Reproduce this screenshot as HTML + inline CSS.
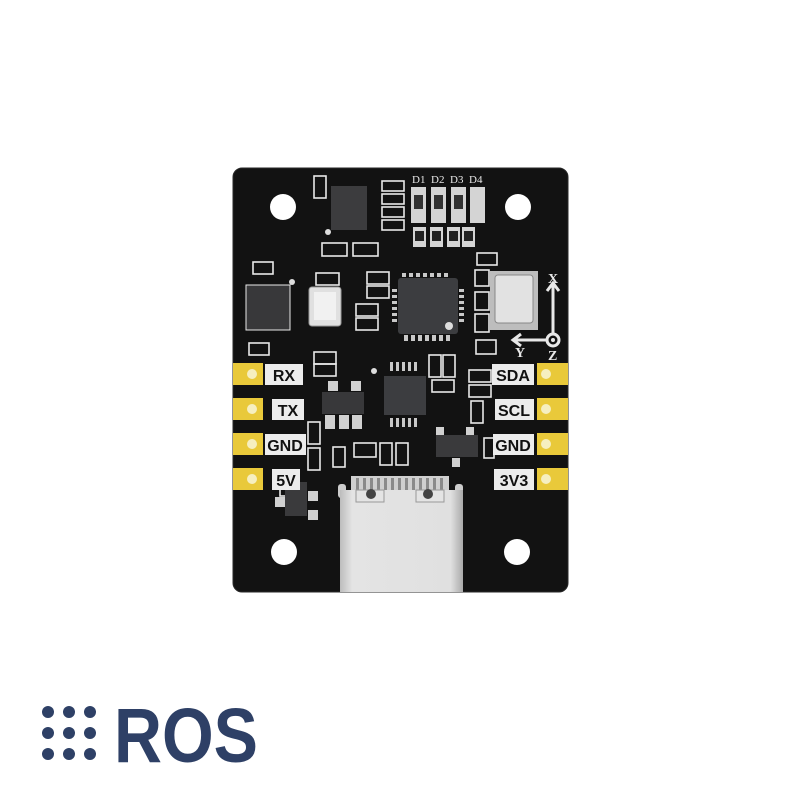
<!DOCTYPE html>
<html><head><meta charset="utf-8"><style>
html,body{margin:0;padding:0;background:#fff;width:800px;height:800px;overflow:hidden}
svg{display:block}
</style></head><body>
<svg width="800" height="800" viewBox="0 0 800 800" xmlns="http://www.w3.org/2000/svg" font-family="Liberation Sans, sans-serif">
<defs>
<linearGradient id="usb" x1="0" x2="1"><stop offset="0" stop-color="#bdbdbd"/><stop offset="0.1" stop-color="#e4e4e4"/><stop offset="0.9" stop-color="#e0e0e0"/><stop offset="1" stop-color="#aaa"/></linearGradient>
</defs>
<rect x="0" y="0" width="800" height="800" fill="#fff"/>
<!-- board -->
<rect x="233" y="168" width="335" height="424" rx="9" fill="#121212"/>
<rect x="233" y="168" width="335" height="424" rx="9" fill="none" stroke="#2a2a2a" stroke-width="1"/>
<!-- holes -->
<circle cx="283" cy="207" r="13" fill="#fff"/>
<circle cx="518" cy="207" r="13" fill="#fff"/>
<circle cx="284" cy="552" r="13" fill="#fff"/>
<circle cx="517" cy="552" r="13" fill="#fff"/>

<g fill="none" stroke="#e8e8e8" stroke-width="1.6">
<!-- top small components -->
<rect x="314" y="176" width="12" height="22"/>
<rect x="382" y="181" width="22" height="10"/><rect x="382" y="194" width="22" height="10"/>
<rect x="382" y="207" width="22" height="10"/><rect x="382" y="220" width="22" height="10"/>
<rect x="322" y="243" width="25" height="13"/><rect x="353" y="243" width="25" height="13"/>
<rect x="253" y="262" width="20" height="12"/>
<rect x="316" y="273" width="23" height="12"/>
<rect x="367" y="272" width="22" height="12"/><rect x="367" y="286" width="22" height="12"/>
<rect x="356" y="304" width="22" height="12"/><rect x="356" y="318" width="22" height="12"/>
<rect x="477" y="253" width="20" height="12"/>
<rect x="475" y="270" width="14" height="16"/><rect x="475" y="292" width="14" height="18"/><rect x="475" y="314" width="14" height="18"/>
<rect x="476" y="340" width="20" height="14"/>
<rect x="249" y="343" width="20" height="12"/>
<!-- middle -->
<rect x="314" y="352" width="22" height="12"/><rect x="314" y="364" width="22" height="12"/>
<rect x="429" y="355" width="12" height="22"/><rect x="443" y="355" width="12" height="22"/>
<rect x="432" y="380" width="22" height="12"/>
<rect x="469" y="370" width="22" height="12"/><rect x="469" y="385" width="22" height="12"/>
<rect x="471" y="401" width="12" height="22"/>
<rect x="308" y="422" width="12" height="22"/><rect x="308" y="448" width="12" height="22"/>
<rect x="333" y="447" width="12" height="20"/>
<rect x="354" y="443" width="22" height="14"/>
<rect x="380" y="443" width="12" height="22"/><rect x="396" y="443" width="12" height="22"/>
<rect x="484" y="438" width="10" height="20"/>
<rect x="280" y="486" width="10" height="10"/>
</g>

<!-- chips -->
<rect x="331" y="186" width="36" height="44" fill="#3c3c3e"/>
<circle cx="328" cy="232" r="3" fill="#ddd"/>
<rect x="246" y="285" width="44" height="45" fill="#38383a" stroke="#e8e8e8" stroke-width="1"/>
<circle cx="292" cy="282" r="3" fill="#ddd"/>
<rect x="309" y="287" width="32" height="39" rx="3" fill="#e0e0e0" stroke="#999"/>
<rect x="314" y="292" width="22" height="28" fill="#f1f1f1"/>
<!-- QFN -->
<rect x="398" y="278" width="60" height="56" rx="3" fill="#3c3d40"/>
<g fill="#c8c8c8">
<rect x="402" y="273" width="4" height="4"/><rect x="409" y="273" width="4" height="4"/><rect x="416" y="273" width="4" height="4"/><rect x="423" y="273" width="4" height="4"/><rect x="430" y="273" width="4" height="4"/><rect x="437" y="273" width="4" height="4"/><rect x="444" y="273" width="4" height="4"/>
<rect x="404" y="335" width="4" height="6"/><rect x="411" y="335" width="4" height="6"/><rect x="418" y="335" width="4" height="6"/><rect x="425" y="335" width="4" height="6"/><rect x="432" y="335" width="4" height="6"/><rect x="439" y="335" width="4" height="6"/><rect x="446" y="335" width="4" height="6"/>
<rect x="392" y="289" width="5" height="3"/><rect x="392" y="295" width="5" height="3"/><rect x="392" y="301" width="5" height="3"/><rect x="392" y="307" width="5" height="3"/><rect x="392" y="313" width="5" height="3"/><rect x="392" y="319" width="5" height="3"/>
<rect x="459" y="289" width="5" height="3"/><rect x="459" y="295" width="5" height="3"/><rect x="459" y="301" width="5" height="3"/><rect x="459" y="307" width="5" height="3"/><rect x="459" y="313" width="5" height="3"/><rect x="459" y="319" width="5" height="3"/>
</g>
<circle cx="449" cy="326" r="4" fill="#ddd"/>
<!-- IMU -->
<rect x="490" y="271" width="48" height="59" fill="#bdbdbd"/>
<rect x="495" y="275" width="38" height="48" rx="3" fill="#e2e2e2" stroke="#888"/>
<!-- axes -->
<g stroke="#e8e8e8" stroke-width="3" fill="none">
<line x1="553" y1="334" x2="553" y2="285"/>
<line x1="547" y1="340" x2="515" y2="340"/>
<polyline points="547,291 553,283 559,291"/>
<polyline points="521,334 513,340 521,346"/>
<circle cx="553" cy="340" r="6"/>
</g>
<circle cx="553" cy="340" r="2" fill="#e8e8e8"/>
<g fill="#e8e8e8" font-family="Liberation Serif, serif" font-weight="bold" font-size="14">
<text x="548" y="283">X</text><text x="515" y="357">Y</text><text x="548" y="360">Z</text>
</g>
<!-- LEDs -->
<g fill="#e8e8e8" font-family="Liberation Serif, serif" font-size="11">
<text x="412" y="183">D1</text><text x="431" y="183">D2</text><text x="450" y="183">D3</text><text x="469" y="183">D4</text>
</g>
<g>
<rect x="411" y="187" width="15" height="36" fill="#d4d4d4"/><rect x="414" y="195" width="9" height="14" fill="#333"/>
<rect x="431" y="187" width="15" height="36" fill="#d4d4d4"/><rect x="434" y="195" width="9" height="14" fill="#333"/>
<rect x="451" y="187" width="15" height="36" fill="#d4d4d4"/><rect x="454" y="195" width="9" height="14" fill="#333"/>
<rect x="470" y="187" width="15" height="36" fill="#d4d4d4"/>
<rect x="413" y="227" width="13" height="20" fill="#d4d4d4"/><rect x="415" y="231" width="9" height="10" fill="#222"/>
<rect x="430" y="227" width="13" height="20" fill="#d4d4d4"/><rect x="432" y="231" width="9" height="10" fill="#222"/>
<rect x="447" y="227" width="13" height="20" fill="#d4d4d4"/><rect x="449" y="231" width="9" height="10" fill="#222"/>
<rect x="462" y="227" width="13" height="20" fill="#d4d4d4"/><rect x="464" y="231" width="9" height="10" fill="#222"/>
</g>
<!-- SOT-223ish -->
<rect x="328" y="381" width="10" height="10" fill="#d0d0d0"/><rect x="351" y="381" width="10" height="10" fill="#d0d0d0"/>
<rect x="325" y="415" width="10" height="14" fill="#d0d0d0"/><rect x="339" y="415" width="10" height="14" fill="#d0d0d0"/><rect x="352" y="415" width="10" height="14" fill="#d0d0d0"/>
<rect x="322" y="392" width="42" height="22" fill="#38383a"/>
<!-- SOIC -->
<rect x="384" y="376" width="42" height="39" fill="#3c3d40"/>
<g fill="#c8c8c8">
<rect x="390" y="362" width="3" height="9"/><rect x="396" y="362" width="3" height="9"/><rect x="402" y="362" width="3" height="9"/><rect x="408" y="362" width="3" height="9"/><rect x="414" y="362" width="3" height="9"/>
<rect x="390" y="418" width="3" height="9"/><rect x="396" y="418" width="3" height="9"/><rect x="402" y="418" width="3" height="9"/><rect x="408" y="418" width="3" height="9"/><rect x="414" y="418" width="3" height="9"/>
</g>
<circle cx="374" cy="371" r="3" fill="#ddd"/>
<!-- SOT23 right -->
<rect x="436" y="427" width="8" height="8" fill="#d0d0d0"/><rect x="466" y="427" width="8" height="8" fill="#d0d0d0"/>
<rect x="452" y="458" width="8" height="9" fill="#d0d0d0"/>
<rect x="436" y="435" width="42" height="22" fill="#3a3a3c"/>
<!-- 5V SOT -->
<rect x="275" y="497" width="10" height="10" fill="#d0d0d0"/><rect x="308" y="491" width="10" height="10" fill="#d0d0d0"/><rect x="308" y="510" width="10" height="10" fill="#d0d0d0"/>
<rect x="285" y="482" width="22" height="34" fill="#3a3a3c"/>

<!-- pins left -->
<g>
<rect x="233" y="363" width="30" height="22" fill="#e9c93a"/><circle cx="252" cy="374" r="5" fill="#f6efc0"/>
<rect x="233" y="398" width="30" height="22" fill="#e9c93a"/><circle cx="252" cy="409" r="5" fill="#f6efc0"/>
<rect x="233" y="433" width="30" height="22" fill="#e9c93a"/><circle cx="252" cy="444" r="5" fill="#f6efc0"/>
<rect x="233" y="468" width="30" height="22" fill="#e9c93a"/><circle cx="252" cy="479" r="5" fill="#f6efc0"/>
<rect x="537" y="363" width="31" height="22" fill="#e9c93a"/><circle cx="546" cy="374" r="5" fill="#f6efc0"/>
<rect x="537" y="398" width="31" height="22" fill="#e9c93a"/><circle cx="546" cy="409" r="5" fill="#f6efc0"/>
<rect x="537" y="433" width="31" height="22" fill="#e9c93a"/><circle cx="546" cy="444" r="5" fill="#f6efc0"/>
<rect x="537" y="468" width="31" height="22" fill="#e9c93a"/><circle cx="546" cy="479" r="5" fill="#f6efc0"/>
</g>
<g fill="#ececec">
<rect x="265" y="364" width="38" height="21"/><rect x="272" y="399" width="32" height="21"/>
<rect x="265" y="434" width="41" height="21"/><rect x="272" y="469" width="28" height="21"/>
<rect x="492" y="364" width="42" height="21"/><rect x="495" y="399" width="39" height="21"/>
<rect x="493" y="434" width="41" height="21"/><rect x="494" y="469" width="40" height="21"/>
</g>
<g fill="#111" font-weight="bold" font-size="16" text-anchor="middle">
<text x="284" y="381">RX</text><text x="288" y="416">TX</text>
<text x="285" y="451">GND</text><text x="286" y="486">5V</text>
<text x="513" y="381">SDA</text><text x="514" y="416">SCL</text>
<text x="513" y="451">GND</text><text x="514" y="486">3V3</text>
</g>

<!-- USB-C -->
<rect x="351" y="476" width="98" height="18" fill="#cfcfcf"/>
<g fill="#8a8a8a">
<rect x="356" y="478" width="3" height="12"/><rect x="363" y="478" width="3" height="12"/><rect x="370" y="478" width="3" height="12"/><rect x="377" y="478" width="3" height="12"/><rect x="384" y="478" width="3" height="12"/><rect x="391" y="478" width="3" height="12"/><rect x="398" y="478" width="3" height="12"/><rect x="405" y="478" width="3" height="12"/><rect x="412" y="478" width="3" height="12"/><rect x="419" y="478" width="3" height="12"/><rect x="426" y="478" width="3" height="12"/><rect x="433" y="478" width="3" height="12"/><rect x="440" y="478" width="3" height="12"/>
</g>
<rect x="338" y="484" width="8" height="14" rx="3" fill="#ccc"/><rect x="455" y="484" width="8" height="14" rx="3" fill="#ccc"/>
<rect x="340" y="490" width="123" height="102" fill="url(#usb)"/>
<rect x="356" y="490" width="28" height="12" fill="#e4e4e4" stroke="#999"/>
<rect x="416" y="490" width="28" height="12" fill="#e4e4e4" stroke="#999"/>
<circle cx="371" cy="494" r="5" fill="#444"/><circle cx="428" cy="494" r="5" fill="#444"/>

<!-- ROS logo -->
<g fill="#2e4066">
<circle cx="48" cy="712" r="6"/><circle cx="69" cy="712" r="6"/><circle cx="90" cy="712" r="6"/>
<circle cx="48" cy="733" r="6"/><circle cx="69" cy="733" r="6"/><circle cx="90" cy="733" r="6"/>
<circle cx="48" cy="754" r="6"/><circle cx="69" cy="754" r="6"/><circle cx="90" cy="754" r="6"/>
</g>
<text x="114" y="762" fill="#2e4066" font-weight="bold" font-size="77" textLength="144" lengthAdjust="spacingAndGlyphs">ROS</text>
</svg>
</body></html>
